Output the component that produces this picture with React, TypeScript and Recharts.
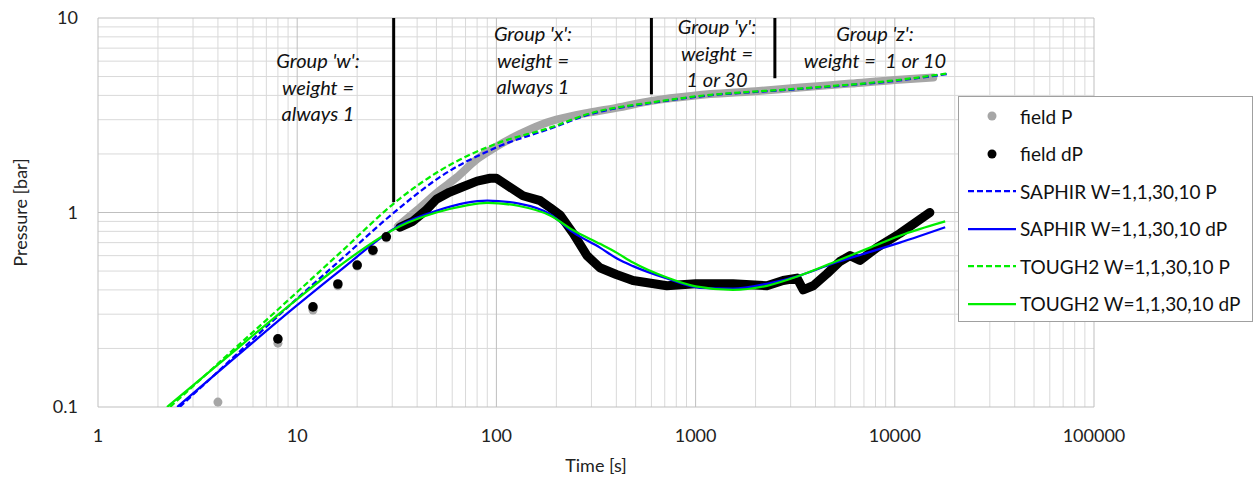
import React from 'react';
import {
  ComposedChart,
  Line,
  Scatter,
  XAxis,
  YAxis,
  ReferenceLine,
  Label,
} from 'recharts';

// axis ticks
const xTicks = [1, 10, 100, 1000, 10000, 100000];
const yTicks = [0.1, 1, 10];
const minorSteps = [2, 3, 4, 5, 6, 7, 8, 9];

// field data, early sparse points
const fieldPDots: [number, number][] = [
  [4, 0.106], [8, 0.213], [12, 0.315], [16, 0.42], [20, 0.53], [24, 0.63], [28, 0.74],
];
const fieldDPDots: [number, number][] = [
  [8, 0.224], [12, 0.327], [16, 0.429], [20, 0.537], [24, 0.64], [28, 0.75],
];

// field data, dense part (drawn as thick trace)
const fieldPTrace: [number, number][] = [
  [32, 0.85], [40, 1.03], [52, 1.3], [63, 1.51], [80, 1.88], [100, 2.18], [130, 2.52],
  [166, 2.82], [200, 3.0], [295, 3.27], [400, 3.45], [600, 3.75], [1000, 4.0],
  [2000, 4.2], [3340, 4.39], [6000, 4.6], [10000, 4.8], [15600, 4.94],
];
const fieldDPTrace: [number, number][] = [
  [32.8, 0.84], [38, 0.9], [44, 1.02], [50, 1.17], [58, 1.27], [66, 1.34], [80, 1.45],
  [93, 1.5], [100, 1.5], [113, 1.38], [136, 1.22], [166, 1.15], [186, 1.06], [209, 0.97],
  [243, 0.78], [285, 0.6], [331, 0.52], [400, 0.48], [485, 0.447], [718, 0.42],
  [1000, 0.43], [1540, 0.43], [2280, 0.42], [2750, 0.447], [3230, 0.46], [3470, 0.4],
  [3890, 0.42], [4570, 0.485], [5300, 0.56], [5960, 0.6], [6690, 0.567], [8130, 0.66],
  [10600, 0.78], [15000, 1.0],
];

// model curves
const saphirP: [number, number][] = [
  [2.57, 0.1], [4, 0.152], [10, 0.361], [16.4, 0.567], [32.8, 1.06], [52, 1.52],
  [100, 2.16], [186, 2.7], [295, 3.2], [600, 3.66], [1000, 3.93], [3340, 4.32],
  [10000, 4.75], [18300, 5.15],
];
const saphirDP: [number, number][] = [
  [2.5, 0.1], [4, 0.151], [10, 0.334], [16.4, 0.503], [32.8, 0.86], [50, 1.02],
  [70, 1.12], [90, 1.15], [130, 1.11], [186, 0.98], [243, 0.79], [331, 0.66],
  [403, 0.58], [485, 0.53], [718, 0.458], [1050, 0.41], [1540, 0.406], [2280, 0.43],
  [3340, 0.474], [4900, 0.547], [7240, 0.62], [10600, 0.7], [17900, 0.84],
];
const toughP: [number, number][] = [
  [2.3, 0.1], [4, 0.167], [10, 0.39], [16.4, 0.62], [32.8, 1.18], [52, 1.64],
  [100, 2.26], [186, 2.73], [295, 3.23], [600, 3.68], [1000, 3.95], [3340, 4.34],
  [10000, 4.78], [18300, 5.18],
];
const toughDP: [number, number][] = [
  [2.22, 0.1], [4, 0.165], [10, 0.359], [16.4, 0.534], [32.8, 0.85], [50, 1.0],
  [70, 1.085], [90, 1.12], [130, 1.08], [186, 0.965], [243, 0.81], [331, 0.69],
  [403, 0.62], [485, 0.553], [718, 0.463], [1000, 0.417], [1540, 0.4], [2280, 0.42],
  [3340, 0.474], [4900, 0.553], [7240, 0.65], [10600, 0.76], [17900, 0.9],
];

// group separators: time, bottom pressure (top is the axis max)
const separators: [number, number][] = [
  [30.5, 1.13], [600, 4.05], [2500, 4.9],
];

const rows = (pts: [number, number][]) => pts.map(([t, v]) => ({ t, v }));

const xMinor = xTicks.slice(0, -1).flatMap((d) => minorSteps.map((m) => d * m));
const yMinor = yTicks.slice(0, -1).flatMap((d) => minorSteps.map((m) => d * m));

const BLUE = '#0000ff';
const GREEN = '#00ee00';
const FONT = 'Lato, "Open Sans", sans-serif';

const tickStyle = { fontSize: 18, fill: '#222', fontFamily: FONT };

const legendItems = [
  { name: 'field P', kind: 'dot', color: '#a6a6a6' },
  { name: 'field dP', kind: 'dot', color: '#000' },
  { name: 'SAPHIR W=1,1,30,10 P', kind: 'dash', color: BLUE },
  { name: 'SAPHIR W=1,1,30,10 dP', kind: 'line', color: BLUE },
  { name: 'TOUGH2 W=1,1,30,10 P', kind: 'dash', color: GREEN },
  { name: 'TOUGH2 W=1,1,30,10 dP', kind: 'line', color: GREEN },
];

const notes = [
  { x: 318, y: 47, lines: ["Group 'w':", 'weight =', 'always 1'] },
  { x: 533, y: 20, lines: ["Group 'x':", 'weight =', 'always 1'] },
  { x: 717, y: 13, lines: ["Group 'y':", 'weight =', '1 or 30'] },
  { x: 875, y: 20, lines: ["Group 'z':", 'weight =  1 or 10'] },
];

export default function App() {
  return (
    <div style={{ position: 'absolute', left: 0, top: 0, width: 1257, height: 481, background: '#fff' }}>
      <ComposedChart width={1257} height={481} margin={{ top: 18, right: 163, bottom: 0, left: 0 }}>
        <XAxis
          dataKey="t"
          type="number"
          scale="log"
          domain={[1, 100000]}
          ticks={xTicks}
          allowDataOverflow
          axisLine={false}
          tickLine={false}
          tickSize={0}
          tickMargin={22}
          height={74}
          tick={tickStyle}
        >
          <Label value="Time [s]" position="insideBottom" offset={9} style={{ fontSize: 18, fill: '#222', fontFamily: FONT }} />
        </XAxis>
        <YAxis
          dataKey="v"
          type="number"
          scale="log"
          domain={[0.1, 10]}
          ticks={yTicks}
          allowDataOverflow
          axisLine={false}
          tickLine={false}
          tickSize={0}
          tickMargin={20}
          width={98}
          tick={tickStyle}
          tickFormatter={(v) => String(v)}
        >
          <Label
            content={({ viewBox }: any) => {
              const cy = viewBox.y + viewBox.height / 2;
              return (
                <text
                  x={20}
                  y={cy}
                  transform={`rotate(-90, 20, ${cy})`}
                  textAnchor="middle"
                  dominantBaseline="central"
                  style={{ fontSize: 18, fill: '#222', fontFamily: FONT }}
                >
                  Pressure [bar]
                </text>
              );
            }}
          />
        </YAxis>

        {xMinor.map((x) => (
          <ReferenceLine key={`xm${x}`} x={x} stroke="#d9d9d9" strokeWidth={1} />
        ))}
        {yMinor.map((y) => (
          <ReferenceLine key={`ym${y}`} y={y} stroke="#d9d9d9" strokeWidth={1} />
        ))}
        {xTicks.map((x) => (
          <ReferenceLine key={`xM${x}`} x={x} stroke="#bfbfbf" strokeWidth={1} />
        ))}
        {yTicks.map((y) => (
          <ReferenceLine key={`yM${y}`} y={y} stroke="#bfbfbf" strokeWidth={1} />
        ))}

        <Line data={rows(fieldPTrace)} dataKey="v" type="monotone" stroke="#a6a6a6" strokeWidth={8}
          strokeLinecap="round" dot={false} isAnimationActive={false} legendType="none" />
        <Scatter data={rows(fieldPDots)} dataKey="v" fill="#a6a6a6" isAnimationActive={false}
          shape={(p: any) => <circle cx={p.cx} cy={p.cy} r={4.5} fill="#a6a6a6" />} />
        <Scatter data={rows(fieldDPDots)} dataKey="v" fill="#000" isAnimationActive={false}
          shape={(p: any) => <circle cx={p.cx} cy={p.cy} r={4.8} fill="#000" />} />
        <Line data={rows(fieldDPTrace)} dataKey="v" type="linear" stroke="#000" strokeWidth={9}
          strokeLinecap="round" strokeLinejoin="round" dot={false} isAnimationActive={false} legendType="none" />

        <Line data={rows(saphirP)} dataKey="v" type="monotone" stroke={BLUE} strokeWidth={2.25}
          strokeDasharray="6 3" dot={false} isAnimationActive={false} />
        <Line data={rows(saphirDP)} dataKey="v" type="monotone" stroke={BLUE} strokeWidth={2.25}
          dot={false} isAnimationActive={false} />
        <Line data={rows(toughP)} dataKey="v" type="monotone" stroke={GREEN} strokeWidth={2.25}
          strokeDasharray="6 3" dot={false} isAnimationActive={false} />
        <Line data={rows(toughDP)} dataKey="v" type="monotone" stroke={GREEN} strokeWidth={2.25}
          dot={false} isAnimationActive={false} />

        {separators.map(([t, bottom]) => (
          <Line key={`sep${t}`} data={[{ t, v: 10 }, { t, v: bottom }]} dataKey="v" type="linear"
            stroke="#000" strokeWidth={3} dot={false} isAnimationActive={false} legendType="none" />
        ))}
      </ComposedChart>

      {notes.map((n) => (
        <div
          key={n.lines[0]}
          style={{
            position: 'absolute', left: n.x - 120, top: n.y, width: 240, textAlign: 'center',
            fontFamily: FONT, fontStyle: 'italic', fontSize: 20, lineHeight: '26.5px', color: '#111',
            whiteSpace: 'pre',
          }}
        >
          {n.lines.map((l) => <div key={l}>{l}</div>)}
        </div>
      ))}

      <div
        style={{
          position: 'absolute', left: 958, top: 96, width: 295, height: 226,
          border: '1px solid #a0a0a0', background: '#fff', fontFamily: FONT, fontSize: 19, color: '#111',
          boxSizing: 'border-box',
        }}
      >
        {legendItems.map((it, i) => (
          <div key={it.name} style={{ position: 'absolute', left: 0, top: 3 + i * 37.5, height: 32, display: 'flex', alignItems: 'center' }}>
            <svg width={61} height={32} style={{ display: 'block' }}>
              {it.kind === 'dot' && <circle cx={33} cy={16} r={4.5} fill={it.color} />}
              {it.kind === 'dash' && <line x1={9} x2={57} y1={16} y2={16} stroke={it.color} strokeWidth={2.25} strokeDasharray="6 3" />}
              {it.kind === 'line' && <line x1={9} x2={57} y1={16} y2={16} stroke={it.color} strokeWidth={2.25} />}
            </svg>
            <span style={{ whiteSpace: 'nowrap' }}>{it.name}</span>
          </div>
        ))}
      </div>
    </div>
  );
}
